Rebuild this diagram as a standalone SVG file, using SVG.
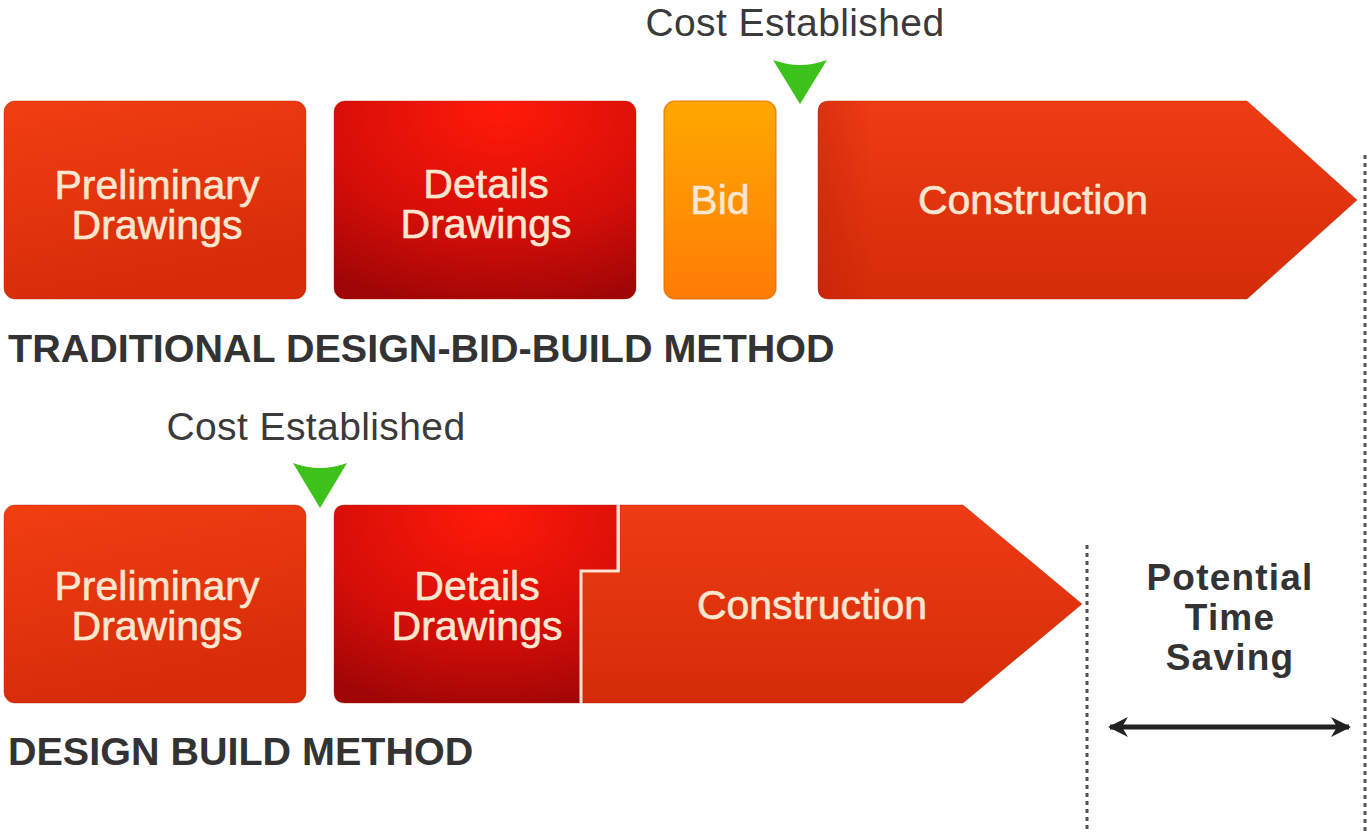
<svg xmlns="http://www.w3.org/2000/svg" width="1371" height="832" viewBox="0 0 1371 832">
<defs>
<linearGradient id="gPre" x1="0" y1="0" x2="0.3" y2="1">
<stop offset="0" stop-color="#f23e12"/><stop offset="1" stop-color="#d62c0a"/>
</linearGradient>
<radialGradient id="gDet" cx="0.55" cy="0.05" r="1" fx="0.55" fy="0.05">
<stop offset="0" stop-color="#ff1a08"/><stop offset="0.6" stop-color="#d40e08"/><stop offset="1" stop-color="#a00606"/>
</radialGradient>
<linearGradient id="gBid" x1="0" y1="0" x2="0" y2="1">
<stop offset="0" stop-color="#ffa800"/><stop offset="1" stop-color="#ff7c06"/>
</linearGradient>
<linearGradient id="gCon" x1="0" y1="0" x2="0" y2="1">
<stop offset="0" stop-color="#ee3c14"/><stop offset="1" stop-color="#d42c08"/>
</linearGradient>
<linearGradient id="gConL" x1="0" y1="0" x2="1" y2="0">
<stop offset="0" stop-color="#b01808" stop-opacity="0.3"/><stop offset="0.1" stop-color="#b01808" stop-opacity="0"/>
</linearGradient>
<marker id="ah" viewBox="0 0 20 20" refX="18" refY="10" markerWidth="20" markerHeight="20" markerUnits="userSpaceOnUse" orient="auto-start-reverse">
<path d="M0,0 L20,10 L0,20 L6,10 Z" fill="#222"/>
</marker>
</defs>
<style>
.lbl{font-family:"Liberation Sans",Arial,sans-serif;font-size:41px;fill:#fbe6cf;stroke:#fbe6cf;stroke-width:0.6;text-anchor:middle}
.cost{font-family:"Liberation Sans",Arial,sans-serif;font-size:39px;fill:#3a3a3a;text-anchor:middle;letter-spacing:0.4px}
.title{font-family:"Liberation Sans",Arial,sans-serif;font-size:39.5px;font-weight:bold;fill:#333}
.pts{font-family:"Liberation Sans",Arial,sans-serif;font-size:37px;font-weight:bold;fill:#333;text-anchor:middle;letter-spacing:1.2px}
.box{stroke:#b02006;stroke-width:1;stroke-opacity:0.4}
.tri{fill:#3cc21a}
.dot{stroke:#555;stroke-width:3;stroke-dasharray:4 4;fill:none}
</style>
<rect width="1371" height="832" fill="#ffffff"/>

<g id="cost-top">
<text class="cost" x="795" y="36">Cost Established</text>
<path class="tri" d="M773,60 Q800,70 827,60 L800,104 Z"/>
</g>

<g id="t-prelim">
<rect class="box" x="4" y="101" width="302" height="198" rx="11" fill="url(#gPre)"/>
<text class="lbl" x="157" y="199">Preliminary</text>
<text class="lbl" x="157" y="239">Drawings</text>
</g>
<g id="t-details">
<rect class="box" x="334" y="101" width="302" height="198" rx="11" fill="url(#gDet)"/>
<text class="lbl" x="486" y="198">Details</text>
<text class="lbl" x="486" y="238">Drawings</text>
</g>
<g id="t-bid">
<rect x="664" y="101" width="112" height="198" rx="11" fill="url(#gBid)" stroke="#e06a00" stroke-width="1.5" stroke-opacity="0.6"/>
<text class="lbl" x="720" y="214">Bid</text>
</g>
<g id="t-construction">
<path class="box" d="M829,101 L1247,101 L1357,200 L1247,299 L829,299 Q818,299 818,288 L818,112 Q818,101 829,101 Z" fill="url(#gCon)"/>
<path d="M829,101 L1247,101 L1357,200 L1247,299 L829,299 Q818,299 818,288 L818,112 Q818,101 829,101 Z" fill="url(#gConL)"/>
<text class="lbl" x="1033" y="214">Construction</text>
</g>
<text class="title" x="8" y="362" id="t-title">TRADITIONAL DESIGN-BID-BUILD METHOD</text>

<g id="cost-bottom">
<text class="cost" x="316" y="440">Cost Established</text>
<path class="tri" d="M293,463 Q320,473 347,463 L320,508 Z"/>
</g>

<g id="b-prelim">
<rect class="box" x="4" y="505" width="302" height="198" rx="11" fill="url(#gPre)"/>
<text class="lbl" x="157" y="600">Preliminary</text>
<text class="lbl" x="157" y="640">Drawings</text>
</g>
<g id="b-construction">
<path class="box" d="M620,505 L963,505 L1082,604 L963,703 L582,703 L582,572 L620,572 Z" fill="url(#gCon)"/>
<text class="lbl" x="812" y="619">Construction</text>
</g>
<g id="b-details">
<path class="box" d="M345,505 L618,505 L618,571 L581,571 L581,703 L345,703 Q334,703 334,692 L334,516 Q334,505 345,505 Z" fill="url(#gDet)"/>
<path d="M618,505 L618,571 L581,571 L581,703" fill="none" stroke="#ffe2d0" stroke-width="3"/>
<text class="lbl" x="477" y="600">Details</text>
<text class="lbl" x="477" y="640">Drawings</text>
</g>
<text class="title" x="8" y="765" id="b-title">DESIGN BUILD METHOD</text>

<g id="time-saving">
<text class="pts" x="1230" y="590">Potential</text>
<text class="pts" x="1230" y="630">Time</text>
<text class="pts" x="1230" y="670">Saving</text>
</g>

<g id="connectors">
<line class="dot" x1="1365" y1="155" x2="1365" y2="832"/>
<line class="dot" x1="1087" y1="545" x2="1087" y2="832"/>
<line x1="1110" y1="727" x2="1349" y2="727" stroke="#222" stroke-width="5" marker-start="url(#ah)" marker-end="url(#ah)"/>
</g>
</svg>
